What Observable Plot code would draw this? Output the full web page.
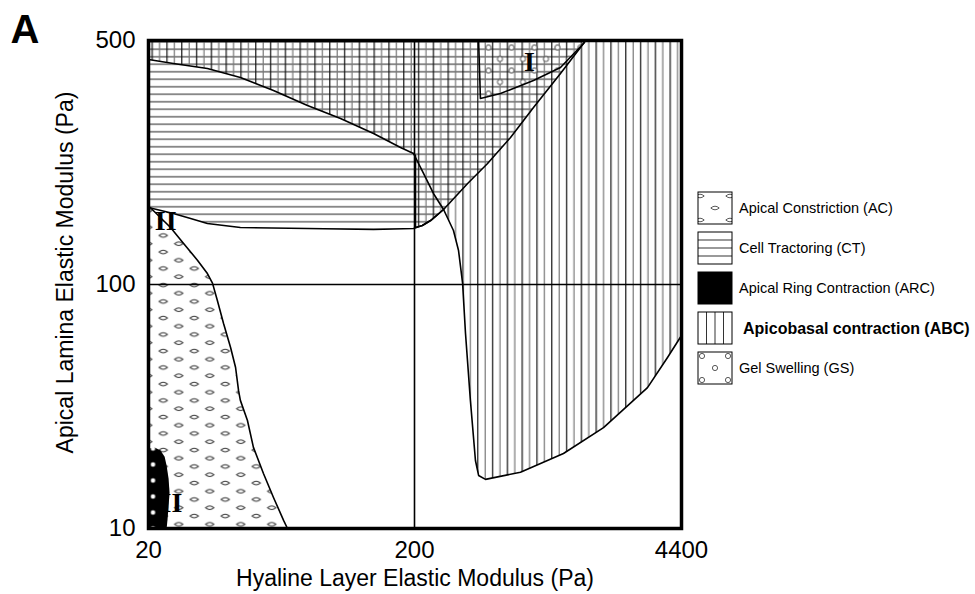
<!DOCTYPE html>
<html><head><meta charset="utf-8">
<script src="https://cdn.jsdelivr.net/npm/d3@7"></script>
<script src="https://cdn.jsdelivr.net/npm/@observablehq/plot@0.6"></script>
<style>
html,body{margin:0;padding:0;background:#fff;}
#chart{width:975px;height:594px;}
</style></head><body><div id="chart"></div>
<script>
// Axes (Pa) — piecewise log scales
const xDomain = [20, 200, 4400];
const yDomain = [10, 100, 500];
const xTicks = [20, 200, 4400];
const yTicks = [10, 100, 500];
const xTitle = "Hyaline Layer Elastic Modulus (Pa)";
const yTitle = "Apical Lamina Elastic Modulus (Pa)";
const panelLabel = "A";

// Region boundaries (hyaline modulus Pa, lamina modulus Pa)
// Cell Tractoring (CT)
const ctX = [20, 20, 24.8, 28.8, 33.3, 44.3, 79.2, 140.3, 198.3, 219, 241, 280, 370, 466, 608, 793, 1084, 1415, 1448, 20];
const ctY = [500, 166.2, 159.7, 154.6, 149.5, 145.6, 144.7, 143.7, 144.7, 147.6, 152.5, 164, 194.7, 222.1, 263.7, 321.4, 402.1, 490, 500, 500];
// Apicobasal contraction (ABC)
const abcX = [20, 20, 24.8, 33.3, 44.3, 59.0, 79.2, 105.4, 140.3, 177.2, 198.3, 202.3, 202.3, 219, 241, 280, 314, 333, 349, 361, 382, 405, 420, 455, 682, 1122, 1784, 2968, 3742, 4400, 4400, 20];
const abcY = [500, 441, 429.6, 415.6, 391.7, 359.5, 325.6, 298.9, 270.8, 246.8, 237.3, 234.2, 145.6, 147.6, 152.5, 164, 142.8, 125.1, 100.9, 63.0, 33.5, 19.0, 16.5, 15.9, 17.0, 20.3, 25.9, 37.8, 50.2, 61.8, 500, 500];
// ABC edge extension above the CT boundary
const diagX = [198.3, 222, 249, 280];
const diagY = [237.3, 208.0, 182.3, 164];
// Apical Constriction (AC)
const acX = [20, 20.3, 24.2, 27.1, 30.6, 33.3, 34.8, 36.3, 38.3, 40.7, 42.5, 43.6, 44.3, 47.1, 49.6, 54.1, 59.0, 64.4, 66.6, 20, 20];
const acY = [166.2, 166.2, 145.6, 131.1, 117.2, 107.5, 100.9, 86.0, 69.2, 55.2, 45.7, 36.8, 33.5, 27.7, 21.5, 16.8, 13.4, 10.8, 10, 10, 166.2];
// Gel Swelling (GS)
const gsX = [420, 429, 541, 793, 1084, 1415, 1448, 420];
const gsY = [500, 341, 352.5, 384, 418.4, 490, 500, 500];
// Apical Ring Contraction (ARC)
const arcX = [20, 21.1, 22.2, 23.0, 23.4, 23.8, 24.0, 23.8, 23.6, 23.4, 20, 20];
const arcY = [21.3, 21.5, 20.9, 19.7, 18.1, 16.0, 14.0, 12.4, 11.0, 10, 10, 21.3];
// Roman numeral labels
const romanLabels = ["I", "II", "II"];
const romanX = [757, 23.2, 24.4];
const romanY = [435, 151.5, 12.7];
// Legend
const legendLabels = ["Apical Constriction (AC)", "Cell Tractoring (CT)", "Apical Ring Contraction (ARC)", "Apicobasal contraction (ABC)", "Gel Swelling (GS)"];
const legendKeys = ["ac", "ct", "arc", "abc", "gs"];

const rows = (xs, ys) => xs.map((x, i) => ({x, y: ys[i]}));
const ct = rows(ctX, ctY), abc = rows(abcX, abcY), diag = rows(diagX, diagY);
const ac = rows(acX, acY), gs = rows(gsX, gsY), arc = rows(arcX, arcY);
const roman = romanLabels.map((t, i) => ({t, x: romanX[i], y: romanY[i]}));

const font = "'Liberation Sans', Arial, Helvetica, sans-serif";
const outline = {x: "x", y: "y", stroke: "#000", strokeWidth: 1.6, curve: "linear"};

const plot = Plot.plot({
  width: 975, height: 594,
  marginLeft: 148, marginRight: 294, marginTop: 40, marginBottom: 66,
  style: {fontFamily: font, fontSize: "24px", background: "#fff", color: "#000", overflow: "visible"},
  x: {type: "log", domain: xDomain, range: [148, 414, 681]},
  y: {type: "log", domain: yDomain, range: [528, 284, 40]},
  marks: [
    Plot.line(ct, {x: "x", y: "y", fill: "url(#pat-ct)", stroke: "none"}),
    Plot.line(abc, {x: "x", y: "y", fill: "url(#pat-abc)", stroke: "none"}),
    Plot.line(ac, {x: "x", y: "y", fill: "url(#pat-ac)", stroke: "none"}),
    Plot.line(gs, {x: "x", y: "y", fill: "url(#pat-gs)", stroke: "none"}),
    Plot.line(arc, {x: "x", y: "y", fill: "url(#pat-arc)", stroke: "none"}),
    Plot.ruleX([200], {stroke: "#000", strokeWidth: 1.6}),
    Plot.ruleY([100], {stroke: "#000", strokeWidth: 1.6}),
    Plot.line(ct, outline),
    Plot.line(abc, outline),
    Plot.line(diag, outline),
    Plot.line(ac, outline),
    Plot.line(gs, outline),
    Plot.text(roman, {x: "x", y: "y", text: "t", fontFamily: "'Liberation Serif', 'DejaVu Serif', serif", fontSize: 28, fontWeight: "bold", fill: "#000"}),
    Plot.frame({stroke: "#000", strokeWidth: 3.5}),
    Plot.axisX({ticks: xTicks, tickSize: 0, tickPadding: 12, tickFormat: d => String(d), label: null}),
    Plot.axisY({ticks: yTicks, tickSize: 0, tickPadding: 13, tickFormat: d => String(d), label: null}),
    Plot.text([xTitle], {text: d => d, frameAnchor: "bottom", dy: 50, textAnchor: "middle", lineAnchor: "middle", fontSize: 23}),
    Plot.text([yTitle], {text: d => d, frameAnchor: "left", dx: -83, dy: -12, rotate: -90, textAnchor: "middle", lineAnchor: "middle", fontSize: 23}),
    Plot.text([panelLabel], {text: d => d, frameAnchor: "top-left", dx: -138, dy: -10, textAnchor: "start", lineAnchor: "middle", fontSize: 40, fontWeight: "bold"})
  ]
});
document.getElementById("chart").appendChild(plot);

const svg = d3.select(plot);
const defs = svg.insert("defs", ":first-child");
const eye = "M-4.2,0 Q0,-3.6 4.2,0 Q0,3.6 -4.2,0Z";

// CT: horizontal lines
let p = defs.append("pattern").attr("id", "pat-ct").attr("patternUnits", "userSpaceOnUse").attr("width", 10).attr("height", 7.5);
p.append("line").attr("x1", 0).attr("x2", 10).attr("y1", 3.75).attr("y2", 3.75).attr("stroke", "#333").attr("stroke-width", 1.1);
// ABC: vertical lines
p = defs.append("pattern").attr("id", "pat-abc").attr("patternUnits", "userSpaceOnUse").attr("width", 14.8).attr("height", 10);
p.append("line").attr("x1", 3.7).attr("x2", 3.7).attr("y1", 0).attr("y2", 10).attr("stroke", "#111").attr("stroke-width", 1.2);
p.append("line").attr("x1", 11.1).attr("x2", 11.1).attr("y1", 0).attr("y2", 10).attr("stroke", "#777").attr("stroke-width", 1.2);
// AC: staggered eye shapes
p = defs.append("pattern").attr("id", "pat-ac").attr("patternUnits", "userSpaceOnUse").attr("width", 31).attr("height", 16.5);
p.append("rect").attr("width", 31).attr("height", 16.5).attr("fill", "#fff");
[[7.75, 4], [23.25, 12.25]].forEach(([cx, cy]) => p.append("path").attr("d", eye).attr("transform", `translate(${cx},${cy})`).attr("fill", "none").attr("stroke", "#333").attr("stroke-width", 1));
// GS: circles
p = defs.append("pattern").attr("id", "pat-gs").attr("patternUnits", "userSpaceOnUse").attr("x", 488).attr("y", 47).attr("width", 23).attr("height", 23);
[[0, 0], [23, 0], [0, 23], [23, 23], [11.5, 11.5]].forEach(([cx, cy]) => p.append("circle").attr("cx", cx).attr("cy", cy).attr("r", 2.6).attr("fill", "#fff").attr("stroke", "#333").attr("stroke-width", 0.9));
// ARC: black with white dots
p = defs.append("pattern").attr("id", "pat-arc").attr("patternUnits", "userSpaceOnUse").attr("x", 148).attr("y", 456).attr("width", 24).attr("height", 16);
p.append("rect").attr("width", 24).attr("height", 16).attr("fill", "#000");
p.append("circle").attr("cx", 4.5).attr("cy", 8).attr("r", 2.3).attr("fill", "#fff");

// Legend swatch patterns (one tile per swatch)
const W = 34, H = 32;
const lg = key => defs.append("pattern").attr("id", "lg-" + key).attr("patternUnits", "objectBoundingBox").attr("width", 1).attr("height", 1);
p = lg("ac"); p.append("rect").attr("width", W).attr("height", H).attr("fill", "#fff");
[[2, 4], [32, 4], [2, 28], [32, 28], [17, 16]].forEach(([cx, cy]) => p.append("path").attr("d", eye).attr("transform", `translate(${cx},${cy})`).attr("fill", "none").attr("stroke", "#444").attr("stroke-width", 0.9));
p = lg("ct"); p.append("rect").attr("width", W).attr("height", H).attr("fill", "#fff");
[8, 16, 24].forEach(y => p.append("line").attr("x1", 0).attr("x2", W).attr("y1", y).attr("y2", y).attr("stroke", "#333").attr("stroke-width", 1));
p = lg("arc"); p.append("rect").attr("width", W).attr("height", H).attr("fill", "#000");
p = lg("abc"); p.append("rect").attr("width", W).attr("height", H).attr("fill", "#fff");
[8.5, 17, 25.5].forEach(x => p.append("line").attr("x1", x).attr("x2", x).attr("y1", 0).attr("y2", H).attr("stroke", "#333").attr("stroke-width", 1));
p = lg("gs"); p.append("rect").attr("width", W).attr("height", H).attr("fill", "#fff");
[[4, 4], [30, 4], [17, 16], [4, 28], [30, 28]].forEach(([cx, cy]) => p.append("circle").attr("cx", cx).attr("cy", cy).attr("r", 2.6).attr("fill", "#fff").attr("stroke", "#444").attr("stroke-width", 0.9));

const legend = svg.append("g").attr("class", "legend").attr("font-family", font).attr("text-anchor", "start");
legendLabels.forEach((label, i) => {
  const top = 192 + i * 40;
  legend.append("rect").attr("x", 698).attr("y", top).attr("width", W).attr("height", H)
    .attr("fill", `url(#lg-${legendKeys[i]})`).attr("stroke", "#000").attr("stroke-width", 1);
  const bold = legendKeys[i] === "abc";
  legend.append("text").attr("x", bold ? 743 : 739).attr("y", top + 16).attr("dy", "0.35em")
    .attr("text-anchor", "start")
    .attr("font-size", bold ? 16 : 14.5).attr("font-weight", bold ? "bold" : "normal")
    .attr("fill", "#000").text(label);
});
</script></body></html>
